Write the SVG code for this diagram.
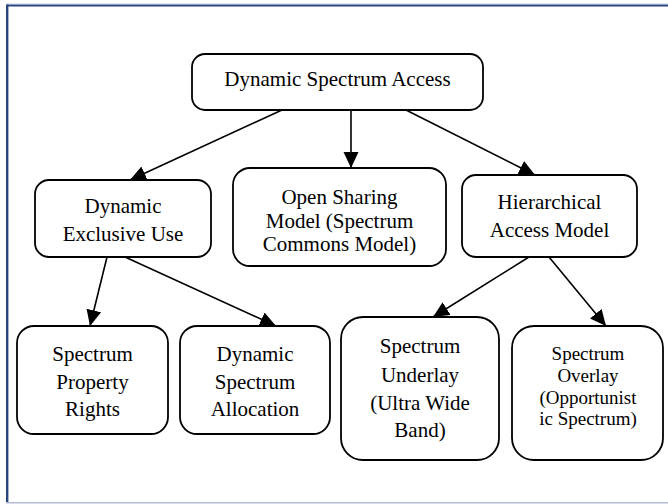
<svg xmlns="http://www.w3.org/2000/svg" width="668" height="504" viewBox="0 0 668 504">
  <defs>
    <marker id="arrow" markerUnits="userSpaceOnUse" markerWidth="17" markerHeight="17" viewBox="0 0 17 17" refX="16" refY="8" orient="auto">
      <path d="M0,0.5 L16,8 L0,15.5 Z" fill="#000"/>
    </marker>
  </defs>

  <rect width="668" height="504" fill="#fff"/>

  <!-- page frame -->
  <g id="frame">
    <line x1="7" y1="5.5" x2="668" y2="5.5" stroke="#27457f" stroke-width="2.2"/>
    <line x1="7" y1="4.2" x2="668" y2="4.2" stroke="#8aa0c8" stroke-width="0.8"/>
    <line x1="7.2" y1="4.5" x2="7.2" y2="503" stroke="#27457f" stroke-width="2.4"/>
    <line x1="6" y1="502.8" x2="668" y2="502.8" stroke="#b4bcd4" stroke-width="1.6"/>
  </g>

  <!-- connectors -->
  <g id="connectors" stroke="#000" stroke-width="1.6" fill="none" marker-end="url(#arrow)">
    <line x1="282" y1="110" x2="130" y2="180"/>
    <line x1="351" y1="110" x2="351" y2="168"/>
    <line x1="406" y1="110" x2="535" y2="175"/>
    <line x1="107" y1="257" x2="90" y2="326"/>
    <line x1="125" y1="257" x2="276" y2="326"/>
    <line x1="529" y1="257" x2="433" y2="317"/>
    <line x1="549" y1="257" x2="606" y2="326"/>
  </g>

  <g id="dsa-root">
    <rect x="192" y="54" width="291" height="56" rx="13" fill="#fff" stroke="#000" stroke-width="1.8"/>
    <text x="337.5" y="86" font-family="Liberation Serif" font-size="21" text-anchor="middle">Dynamic Spectrum Access</text>
  </g>

  <g id="dynamic-exclusive-use">
    <rect x="35" y="180" width="176" height="77" rx="14" fill="#fff" stroke="#000" stroke-width="1.8"/>
    <text x="123" y="213" font-family="Liberation Serif" font-size="21" text-anchor="middle">Dynamic</text>
    <text x="123" y="241" font-family="Liberation Serif" font-size="21" text-anchor="middle">Exclusive Use</text>
  </g>

  <g id="open-sharing">
    <rect x="233" y="168" width="213" height="98" rx="17" fill="#fff" stroke="#000" stroke-width="1.8"/>
    <text x="339.5" y="204" font-family="Liberation Serif" font-size="21" text-anchor="middle">Open Sharing</text>
    <text x="339.5" y="228" font-family="Liberation Serif" font-size="21" text-anchor="middle">Model (Spectrum</text>
    <text x="339.5" y="251" font-family="Liberation Serif" font-size="21" text-anchor="middle">Commons Model)</text>
  </g>

  <g id="hierarchical-access">
    <rect x="462" y="175" width="175" height="82" rx="14" fill="#fff" stroke="#000" stroke-width="1.8"/>
    <text x="549.5" y="209" font-family="Liberation Serif" font-size="21" text-anchor="middle">Hierarchical</text>
    <text x="549.5" y="237" font-family="Liberation Serif" font-size="21" text-anchor="middle">Access Model</text>
  </g>

  <g id="spectrum-property-rights">
    <rect x="17" y="326" width="151" height="108" rx="17" fill="#fff" stroke="#000" stroke-width="1.8"/>
    <text x="92.5" y="361" font-family="Liberation Serif" font-size="21" text-anchor="middle">Spectrum</text>
    <text x="92.5" y="389" font-family="Liberation Serif" font-size="21" text-anchor="middle">Property</text>
    <text x="92.5" y="416" font-family="Liberation Serif" font-size="21" text-anchor="middle">Rights</text>
  </g>

  <g id="dynamic-spectrum-allocation">
    <rect x="180" y="326" width="150" height="108" rx="17" fill="#fff" stroke="#000" stroke-width="1.8"/>
    <text x="255" y="361" font-family="Liberation Serif" font-size="21" text-anchor="middle">Dynamic</text>
    <text x="255" y="389" font-family="Liberation Serif" font-size="21" text-anchor="middle">Spectrum</text>
    <text x="255" y="416" font-family="Liberation Serif" font-size="21" text-anchor="middle">Allocation</text>
  </g>

  <g id="spectrum-underlay">
    <rect x="341" y="317" width="158" height="143" rx="22" fill="#fff" stroke="#000" stroke-width="1.8"/>
    <text x="420" y="353" font-family="Liberation Serif" font-size="21" text-anchor="middle">Spectrum</text>
    <text x="420" y="382" font-family="Liberation Serif" font-size="21" text-anchor="middle">Underlay</text>
    <text x="420" y="410" font-family="Liberation Serif" font-size="21" text-anchor="middle">(Ultra Wide</text>
    <text x="420" y="437" font-family="Liberation Serif" font-size="21" text-anchor="middle">Band)</text>
  </g>

  <g id="spectrum-overlay">
    <rect x="512" y="326" width="151" height="134" rx="22" fill="#fff" stroke="#000" stroke-width="1.8"/>
    <text x="588" y="360" font-family="Liberation Serif" font-size="19" text-anchor="middle">Spectrum</text>
    <text x="588" y="382" font-family="Liberation Serif" font-size="19" text-anchor="middle">Overlay</text>
    <text x="588" y="404" font-family="Liberation Serif" font-size="19" text-anchor="middle">(Opportunist</text>
    <text x="588" y="425" font-family="Liberation Serif" font-size="19" text-anchor="middle">ic Spectrum)</text>
  </g>
</svg>
